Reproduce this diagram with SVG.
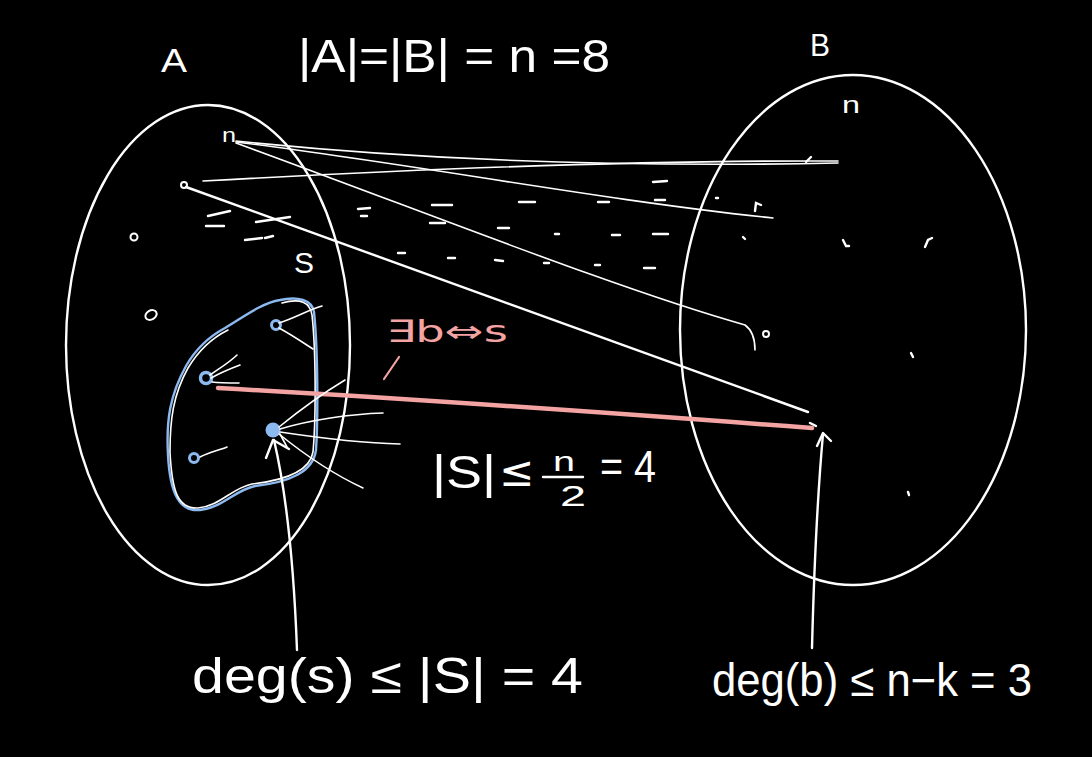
<svg xmlns="http://www.w3.org/2000/svg" width="1092" height="757" viewBox="0 0 1092 757">
<style>
.w{fill:none;stroke:#fff;stroke-width:2.4;stroke-linecap:round;stroke-linejoin:round}
.t{stroke-width:1.6}
.d{fill:none;stroke:#fff;stroke-width:2.4;stroke-linecap:round}
.b{fill:none;stroke:#8cbaf0;stroke-width:2.4;stroke-linecap:round;stroke-linejoin:round}
.p{fill:none;stroke:#f4a3a3;stroke-linecap:round}
.tx{fill:#fff;font-family:"Liberation Sans",Arial,sans-serif}
.sy{fill:#fff;font-family:"DejaVu Sans",sans-serif}
.pk{fill:#f4a3a3;font-family:"DejaVu Sans",sans-serif}
</style>
<rect width="1092" height="757" fill="#000"/>
<g id="setA">
<ellipse class="w" cx="208" cy="345" rx="142" ry="240"/>
<text class="tx" x="161" y="72" font-size="34" textLength="26" lengthAdjust="spacingAndGlyphs">A</text>
</g>
<g id="setB">
<ellipse class="w" cx="853" cy="330" rx="173" ry="255"/>
<text class="tx" x="810" y="56" font-size="32" textLength="20" lengthAdjust="spacingAndGlyphs">B</text>
<text class="tx" x="842" y="113" font-size="24" textLength="18" lengthAdjust="spacingAndGlyphs">n</text>
</g>
<g id="title">
<text class="tx" x="298" y="72" font-size="46" textLength="312" lengthAdjust="spacingAndGlyphs">|A|=|B| = n =8</text>
</g>
<g id="setS">
<path class="b" d="M280,300 C298,296 312,300 314,312 C318,350 318,420 316,450 C313,472 290,482 255,486 C235,490 222,508 200,510 C180,512 170,495 168,455 C166,420 170,395 186,366 C198,345 212,335 225,328 C245,316 262,303 280,300 Z"/>
<path class="w t" d="M282,303 C300,298 310,302 312,315 C316,352 316,420 313,452 C310,470 288,480 252,484 C232,488 220,506 198,508 C178,509 172,492 170,452 C170,420 173,395 188,368 C200,348 214,337 228,330"/>
<text class="tx" x="294" y="273" font-size="30" textLength="20" lengthAdjust="spacingAndGlyphs">S</text>
</g>
<g id="nodesA">
<text class="tx" x="222" y="142" font-size="20" textLength="14" lengthAdjust="spacingAndGlyphs">n</text>
<circle cx="184" cy="185" r="3" fill="none" stroke="#fff" stroke-width="2"/>
<circle cx="134" cy="237" r="3.5" fill="none" stroke="#fff" stroke-width="2"/>
<ellipse cx="151" cy="315" rx="6" ry="4.5" fill="none" stroke="#fff" stroke-width="2" transform="rotate(-30 151 315)"/>
<circle cx="276" cy="325" r="4.5" fill="none" stroke="#8cbaf0" stroke-width="3"/>
<circle cx="206" cy="378" r="5.5" fill="none" stroke="#8cbaf0" stroke-width="3.5"/>
<circle cx="194" cy="458" r="4.5" fill="none" stroke="#8cbaf0" stroke-width="3"/>
<circle cx="273" cy="430" r="7.5" fill="#8cbaf0"/>
</g>
<g id="nodesB">
<path class="d" d="M806,162 L811,157"/>
<path class="d" d="M755,211 L756,203 L761,205"/>
<path class="d" d="M743,237 L745,239"/>
<path class="d" d="M843,240 L846,246 L849,246"/>
<path class="d" d="M925,247 L928,240 L932,238"/>
<path class="d" d="M911,353 L913,357"/>
<circle cx="766" cy="334" r="3" fill="none" stroke="#fff" stroke-width="2"/>
<path class="d" d="M908,492 L909,495"/>
<path class="d" d="M810,423 L816,426"/>
</g>
<g id="connectors">
<path class="w t" d="M236,141 C400,158 600,168 838,163"/>
<path class="w t" d="M236,142 C420,165 600,200 773,218"/>
<path class="w t" d="M236,143 C420,210 620,290 745,325 C752,330 755,340 755,350"/>
<path class="w t" d="M203,181 C400,170 620,160 838,161"/>
<path class="w" d="M186,187 L808,412"/>
<path class="p" stroke-width="4.5" d="M218,388 C400,398 600,412 812,428"/>
<path class="p" stroke-width="2.2" d="M384,379 L399,357"/>
<path class="w t" d="M279,323 C295,318 308,310 322,306"/>
<path class="w t" d="M279,328 C292,335 302,342 313,349"/>
<path class="w t" d="M210,375 C220,368 230,362 237,355"/>
<path class="w t" d="M211,378 C222,372 232,368 240,365"/>
<path class="w t" d="M212,382 C220,383 230,383 239,383"/>
<path class="w t" d="M200,457 C210,452 220,450 227,447"/>
<path class="w t" d="M279,427 C300,410 325,392 345,380"/>
<path class="w t" d="M280,429 C310,420 350,414 383,413"/>
<path class="w t" d="M280,432 C320,438 360,443 400,444"/>
<path class="w t" d="M279,434 C305,455 335,475 363,488"/>
<path class="w t" d="M280,434 L287,447"/>
<path class="w" d="M297,650 C294,570 288,500 274,440"/>
<path class="w" d="M266,458 L273,440 L289,449"/>
<path class="w" d="M812,648 C814,570 818,490 823,434"/>
<path class="w" d="M817,446 L823,433 L831,441"/>
</g>
<g id="dashes">
<path class="d" d="M208,216 L230,211 M206,226 L224,226 M256,222 L290,217 M245,240 L262,238 M265,238 L273,236 M358,209 L370,208 M361,216 L367,216 M432,205 L452,205 M430,223 L445,223 M519,202 L535,202 M598,202 L609,202 M655,200 L665,200 M498,228 L509,228 M555,234 L559,234 M612,235 L620,235 M653,234 L668,234 M398,253 L405,253 M448,258 L455,258 M495,260 L503,261 M544,263 L549,263 M595,265 L600,265 M644,268 L655,268 M716,198 L718,198 M653,182 L667,181"/>
</g>
<g id="labels">
<text class="pk" x="386" y="342" font-size="31" textLength="122" lengthAdjust="spacingAndGlyphs">∃b⇔s</text>
<text class="tx" x="432" y="488" font-size="46" textLength="64" lengthAdjust="spacingAndGlyphs">|S|</text>
<text class="sy" x="499" y="486" font-size="42">≤</text>
<text class="tx" x="553" y="471" font-size="28" textLength="22" lengthAdjust="spacingAndGlyphs">n</text>
<path class="w" d="M543,477 L583,477"/>
<text class="tx" x="560" y="506" font-size="30" textLength="26" lengthAdjust="spacingAndGlyphs">2</text>
<text class="tx" x="600" y="482" font-size="44" textLength="56" lengthAdjust="spacingAndGlyphs">= 4</text>
<text class="tx" x="192" y="693" font-size="50" textLength="391" lengthAdjust="spacingAndGlyphs">deg(s) ≤ |S| = 4</text>
<text class="tx" x="712" y="696" font-size="46" textLength="320" lengthAdjust="spacingAndGlyphs">deg(b) ≤ n−k = 3</text>
</g>
</svg>
